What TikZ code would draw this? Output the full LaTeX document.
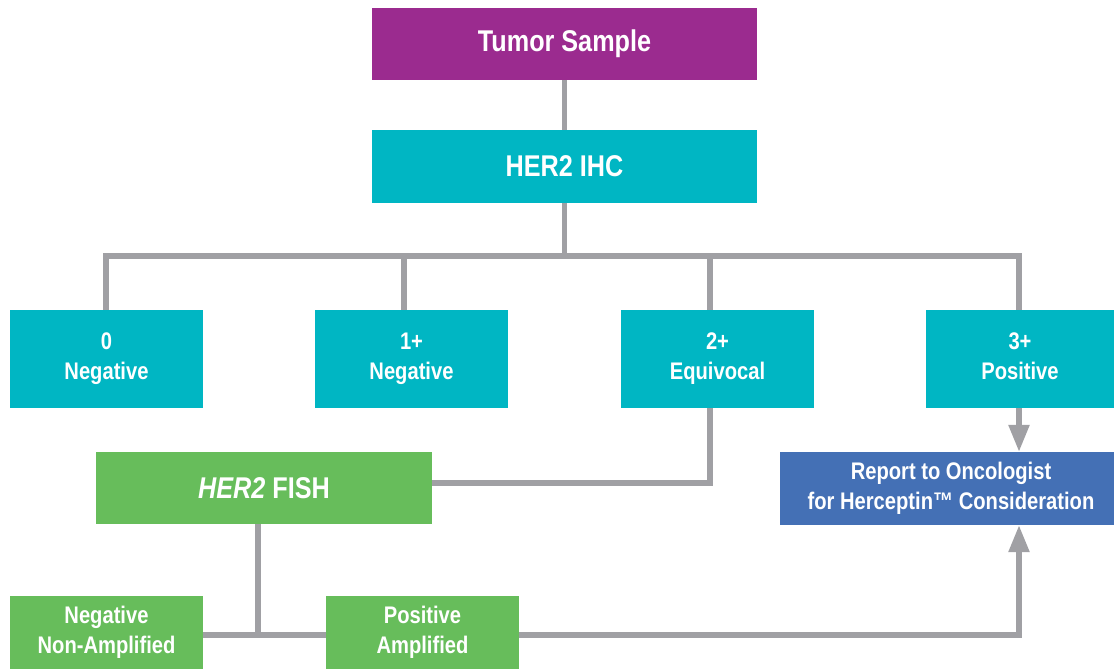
\documentclass[tikz,border=0pt]{standalone}
\usepackage{fontspec}
\setmainfont{Liberation Sans}[FakeStretch=0.84]
\usetikzlibrary{arrows.meta}
\definecolor{cpurple}{RGB}{155,43,143}
\definecolor{cteal}{RGB}{0,182,195}
\definecolor{cgreen}{RGB}{103,189,91}
\definecolor{cblue}{RGB}{68,112,181}
\definecolor{cline}{RGB}{160,160,164}
\begin{document}
\begin{tikzpicture}[x=1pt,y=-1pt,
  box/.style={rectangle, inner sep=0pt, text=white, align=center, font=\fontsize{24}{30}\selectfont\bfseries},
  bigbox/.style={box, font=\fontsize{30}{34}\selectfont\bfseries},
  conn/.style={draw=cline, line width=5.5pt},
  arr/.style={conn, -{Triangle[width=20pt,length=27pt]}}
]
\useasboundingbox (0,0) rectangle (1114,669);
% nodes
\node[bigbox, fill=cpurple, minimum width=385pt, minimum height=72pt] (tumor) at (564.5,44) {Tumor Sample};
\node[bigbox, fill=cteal, minimum width=385pt, minimum height=73pt] (ihc) at (564.5,166.5) {HER2 IHC};
\node[box, fill=cteal, minimum width=193pt, minimum height=98pt] (b0) at (106.5,359) {0\\Negative};
\node[box, fill=cteal, minimum width=193pt, minimum height=98pt] (b1) at (411.5,359) {1+\\Negative};
\node[box, fill=cteal, minimum width=193pt, minimum height=98pt] (b2) at (717.5,359) {2+\\Equivocal\vphantom{g}};
\node[box, fill=cteal, minimum width=188pt, minimum height=98pt] (b3) at (1020,359) {3+\\Positive\vphantom{g}};
\node[bigbox, fill=cgreen, minimum width=336pt, minimum height=72pt] (fish) at (264,488) {\textit{HER2} FISH};
\node[box, fill=cblue, minimum width=334pt, minimum height=73pt] (report) at (947,488.5) {\hspace*{8pt}Report to Oncologist\\\hspace*{8pt}for Herceptin™ Consideration};
\node[box, fill=cgreen, minimum width=193pt, minimum height=73pt] (neg) at (106.5,632.5) {Negative\\Non-Amplified};
\node[box, fill=cgreen, minimum width=193pt, minimum height=73pt] (pos) at (422.5,632.5) {Positive\\Amplified};
% helper coordinates
\coordinate (bus) at (0,256);
\coordinate (eqv) at (0,483);
\coordinate (low) at (0,635);
\coordinate (s0) at (106,0);
\coordinate (s1) at (404,0);
\coordinate (s2) at (710,0);
\coordinate (s3) at (1019,0);
\coordinate (sf) at (258,0);
% connectors
\draw[conn] (tumor.south) -- (ihc.north);
\draw[conn] (ihc.south) -- (ihc.south |- bus);
\draw[conn, line cap=rect] (s0 |- bus) -- (s3 |- bus);
\draw[conn] (s0 |- b0.north) -- (s0 |- bus);
\draw[conn] (s1 |- b1.north) -- (s1 |- bus);
\draw[conn] (s2 |- b2.north) -- (s2 |- bus);
\draw[conn] (s3 |- b3.north) -- (s3 |- bus);
\draw[conn, line join=miter] (s2 |- b2.south) -- (s2 |- eqv) -- (fish.east |- eqv);
\draw[arr] (s3 |- b3.south) -- (s3 |- report.north);
\draw[conn] (sf |- fish.south) -- (sf |- low);
\draw[conn] (neg.east |- low) -- (pos.west |- low);
\draw[arr, line join=miter] (pos.east |- low) -- (s3 |- low) -- (s3 |- report.south);
\end{tikzpicture}
\end{document}
